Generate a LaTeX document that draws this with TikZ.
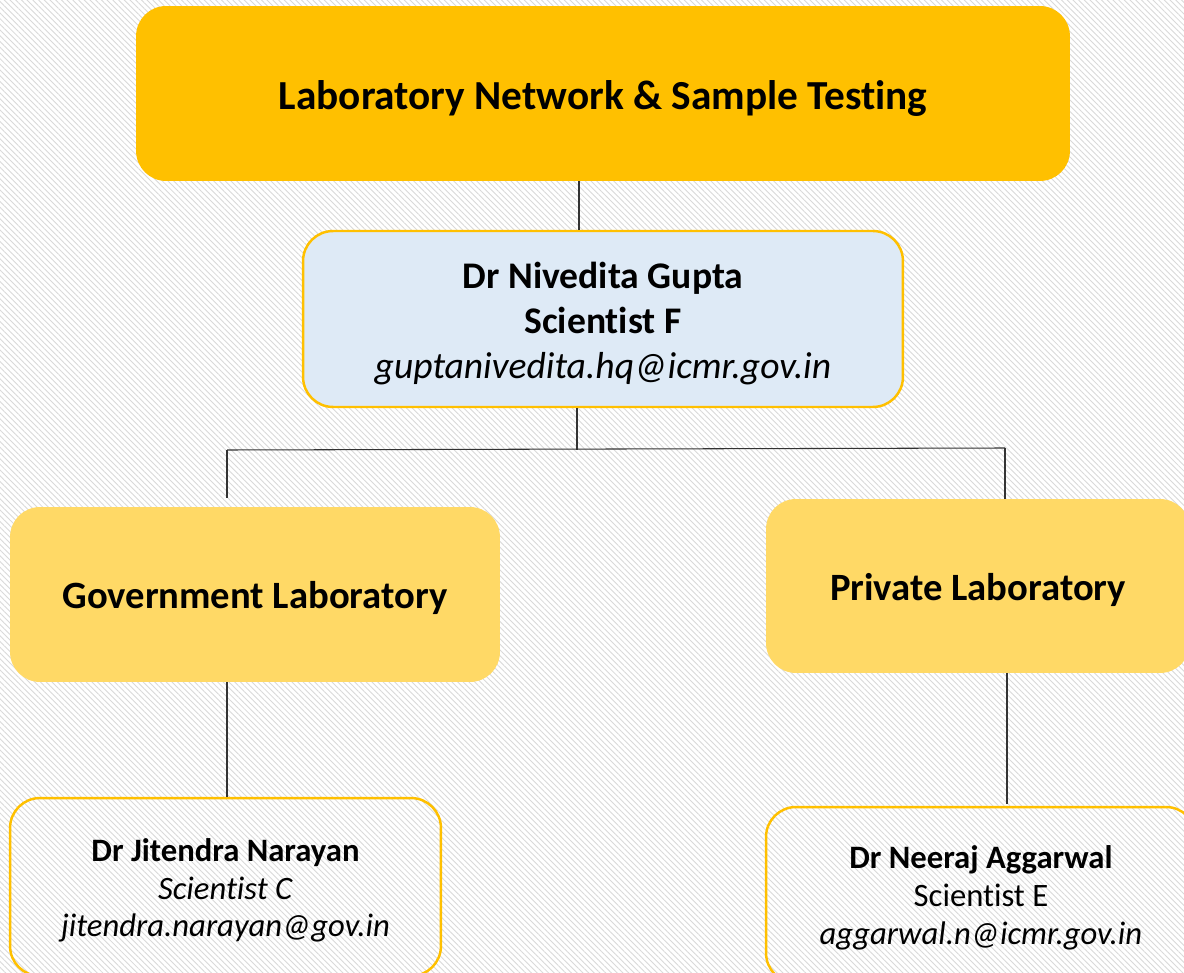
\documentclass[tikz,border=0pt]{standalone}
\usepackage{fontspec}
\setmainfont{Carlito}[Ligatures={NoCommon}]
\usetikzlibrary{patterns.meta}

\definecolor{titleyellow}{HTML}{FFC000}
\definecolor{labyellow}{HTML}{FFD966}
\definecolor{headblue}{HTML}{DEEAF6}
\definecolor{hatchgray}{HTML}{D9D9D9}

\tikzset{
    orgbox/.style={rectangle, rounded corners=0.6cm, inner sep=0pt},
    headbox/.style={orgbox, fill=headblue, draw=titleyellow,
        line width=1.4pt},
    labbox/.style={orgbox, fill=labyellow},
    personbox/.style={orgbox, draw=titleyellow, line width=1.4pt},
    boxtext/.style={align=center, inner sep=0pt},
    labtext/.style={boxtext, font=\fontsize{22}{26}\selectfont\bfseries},
    persontext/.style={boxtext, font=\fontsize{18.6}{21.5}\selectfont},
    link/.style={draw=black!80, line width=0.6pt}
}

\begin{document}
\begin{tikzpicture}[x=0.02cm, y=-0.02cm]
    \useasboundingbox (0, 0) rectangle (1184, 973);
    \clip (0, 0) rectangle (1184, 973);
    \fill[white] (0, 0) rectangle (1184, 973);
    \fill[pattern={Lines[angle=-45, distance=2.3pt, line width=0.5pt]},
        pattern color=hatchgray] (0, 0) rectangle (1184, 973);

    % boxes
    \node[orgbox, fill=titleyellow, minimum width=18.68cm,
        minimum height=3.5cm] (title) at (603, 93.5) {};
    \node[headbox, minimum width=12cm, minimum height=3.52cm]
        (gupta) at (603, 319) {};
    \node[labbox, minimum width=9.8cm, minimum height=3.5cm]
        (gov) at (255, 594.5) {};
    \node[labbox, minimum width=8.48cm, minimum height=3.48cm]
        (private) at (978, 586) {};
    \node[personbox, minimum width=8.62cm, minimum height=3.56cm]
        (jitendra) at (225.5, 887) {};
    \node[personbox, minimum width=8.6cm, minimum height=3.52cm]
        (aggarwal) at (981, 895) {};

    % texts
    \node[boxtext, font=\fontsize{23.5}{28}\selectfont\bfseries,
        yshift=-0.1cm] (titletext) at (title)
        {Laboratory Network \& Sample Testing};
    \node[boxtext, font=\fontsize{21.4}{25.6}\selectfont, yshift=-0.1cm]
        (guptatext) at (gupta)
        {\textbf{Dr Nivedita Gupta}\\ \textbf{Scientist F}\\
        \textit{guptanivedita.hq@icmr.gov.in}};
    \node[labtext, yshift=-0.06cm] (govtext) at (gov)
        {Government Laboratory};
    \node[labtext, yshift=-0.08cm] (privatetext) at (private)
        {Private Laboratory};
    \node[persontext, yshift=-0.07cm] (jitendratext) at (jitendra)
        {\textbf{Dr Jitendra Narayan}\\ \textit{Scientist C}\\
        \textit{jitendra.narayan@gov.in}};
    \node[persontext, yshift=-0.06cm] (aggarwaltext) at (aggarwal)
        {\textbf{Dr Neeraj Aggarwal}\\ Scientist E\\
        \textit{aggarwal.n@icmr.gov.in}};

    % tree links
    \coordinate (busL) at (227, 450);
    \coordinate (busR) at (1005, 448);
    \coordinate (dropR) at (1007, 0);
    \draw[link] ([xshift=-0.48cm]title.south) -- ([xshift=-0.48cm]gupta.north);
    \draw[link] ([xshift=-0.52cm]gupta.south) -- ([xshift=-0.52cm]gupta.south |- busL);
    \draw[link] (busL) -- (busR);
    \draw[link, shorten >=0.18cm] (busL) -- (busL |- gov.north);
    \draw[link] (busR) -- (busR |- private.north);
    \draw[link] (gov.south -| busL) -- (jitendra.north -| busL);
    \draw[link, shorten >=0.04cm] (private.south -| dropR)
        -- (aggarwal.north -| dropR);
\end{tikzpicture}
\end{document}
